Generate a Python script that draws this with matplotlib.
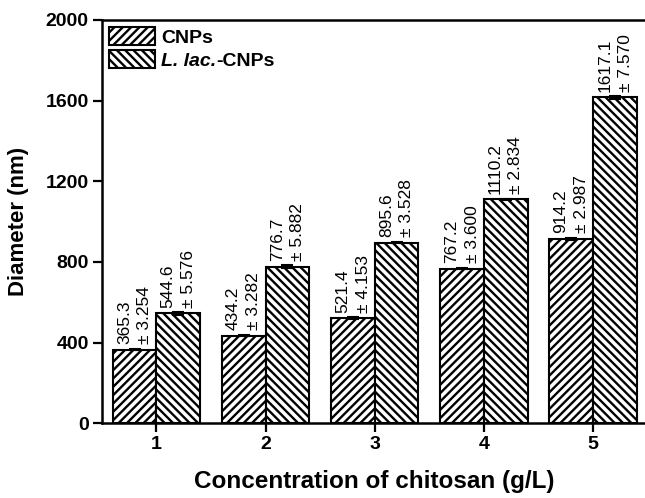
import matplotlib
matplotlib.use("Agg")
import matplotlib.pyplot as plt
import numpy as np

plt.rcParams["font.family"] = ["Liberation Sans", "DejaVu Sans"]
plt.rcParams["font.weight"] = "bold"
plt.rcParams["hatch.linewidth"] = 1.7

categories = ["1", "2", "3", "4", "5"]
cnps = [365.3, 434.2, 521.4, 767.2, 914.2]
cnps_err = [3.254, 3.282, 4.153, 3.600, 2.987]
llac = [544.6, 776.7, 895.6, 1110.2, 1617.1]
llac_err = [5.576, 5.882, 3.528, 2.834, 7.570]
series_labels = ["CNPs", "L. lac."]
series_suffix = "-CNPs"

fig = plt.figure(figsize=(6.45, 4.98), dpi=100)
ax = fig.add_axes([0.158, 0.150, 0.846, 0.810])

x = np.arange(1, len(categories) + 1)
w = 0.4

ax.bar(x - w / 2, cnps, w, color="white", edgecolor="black",
       linewidth=1.5, hatch="////", label=series_labels[0], zorder=2)
ax.bar(x + w / 2, llac, w, color="white", edgecolor="black",
       linewidth=1.5, hatch="\\\\\\\\", label=series_labels[1], zorder=2)
ax.errorbar(x - w / 2, cnps, yerr=cnps_err, fmt="none", ecolor="black",
            elinewidth=1.5, capsize=4, capthick=1.5, zorder=3)
ax.errorbar(x + w / 2, llac, yerr=llac_err, fmt="none", ecolor="black",
            elinewidth=1.5, capsize=4, capthick=1.5, zorder=3)

for xs, vals, errs in ((x - w / 2, cnps, cnps_err), (x + w / 2, llac, llac_err)):
    for xi, v, e in zip(xs, vals, errs):
        ax.annotate(f"{v:.1f}\n\u00b1 {e:.3f}", (xi, v), xytext=(0, 4),
                    textcoords="offset points", rotation=90, ha="center",
                    va="bottom", multialignment="left", fontsize=12.5,
                    fontweight="normal", linespacing=1.45)

ax.set_xlim(0.5, 5.5)
ax.set_ylim(0, 2000)
ax.set_xticks(x)
ax.set_xticklabels(categories)
ax.set_yticks(np.arange(0, 2001, 400))
ax.tick_params(axis="both", direction="out", length=6.5, width=1.6,
               labelsize=14, pad=3)
for lab in ax.get_xticklabels() + ax.get_yticklabels():
    lab.set_fontweight("bold")

for side in ("left", "bottom", "top"):
    ax.spines[side].set_linewidth(1.8)
ax.spines["right"].set_visible(False)

ax.set_xlabel("Concentration of chitosan (g/L)", fontsize=17.5,
              fontweight="bold", labelpad=12)
ax.set_ylabel("Diameter (nm)", fontsize=16, fontweight="bold", labelpad=12)

leg = ax.legend(loc="upper left", frameon=False, fontsize=14,
                handlelength=2.4, handleheight=1.1, handletextpad=0.3,
                labelspacing=0.15, borderaxespad=0.15, borderpad=0.2)
texts = leg.get_texts()
for t in texts:
    t.set_fontweight("bold")
texts[1].set_fontstyle("italic")
for p in leg.get_patches():
    p.set_linewidth(1.5)

fig.canvas.draw()
ax.annotate(series_suffix, xy=(1, 0), xycoords=texts[1], ha="left",
            va="bottom", fontsize=14, fontweight="bold")

fig.savefig("out.png", dpi=100)
